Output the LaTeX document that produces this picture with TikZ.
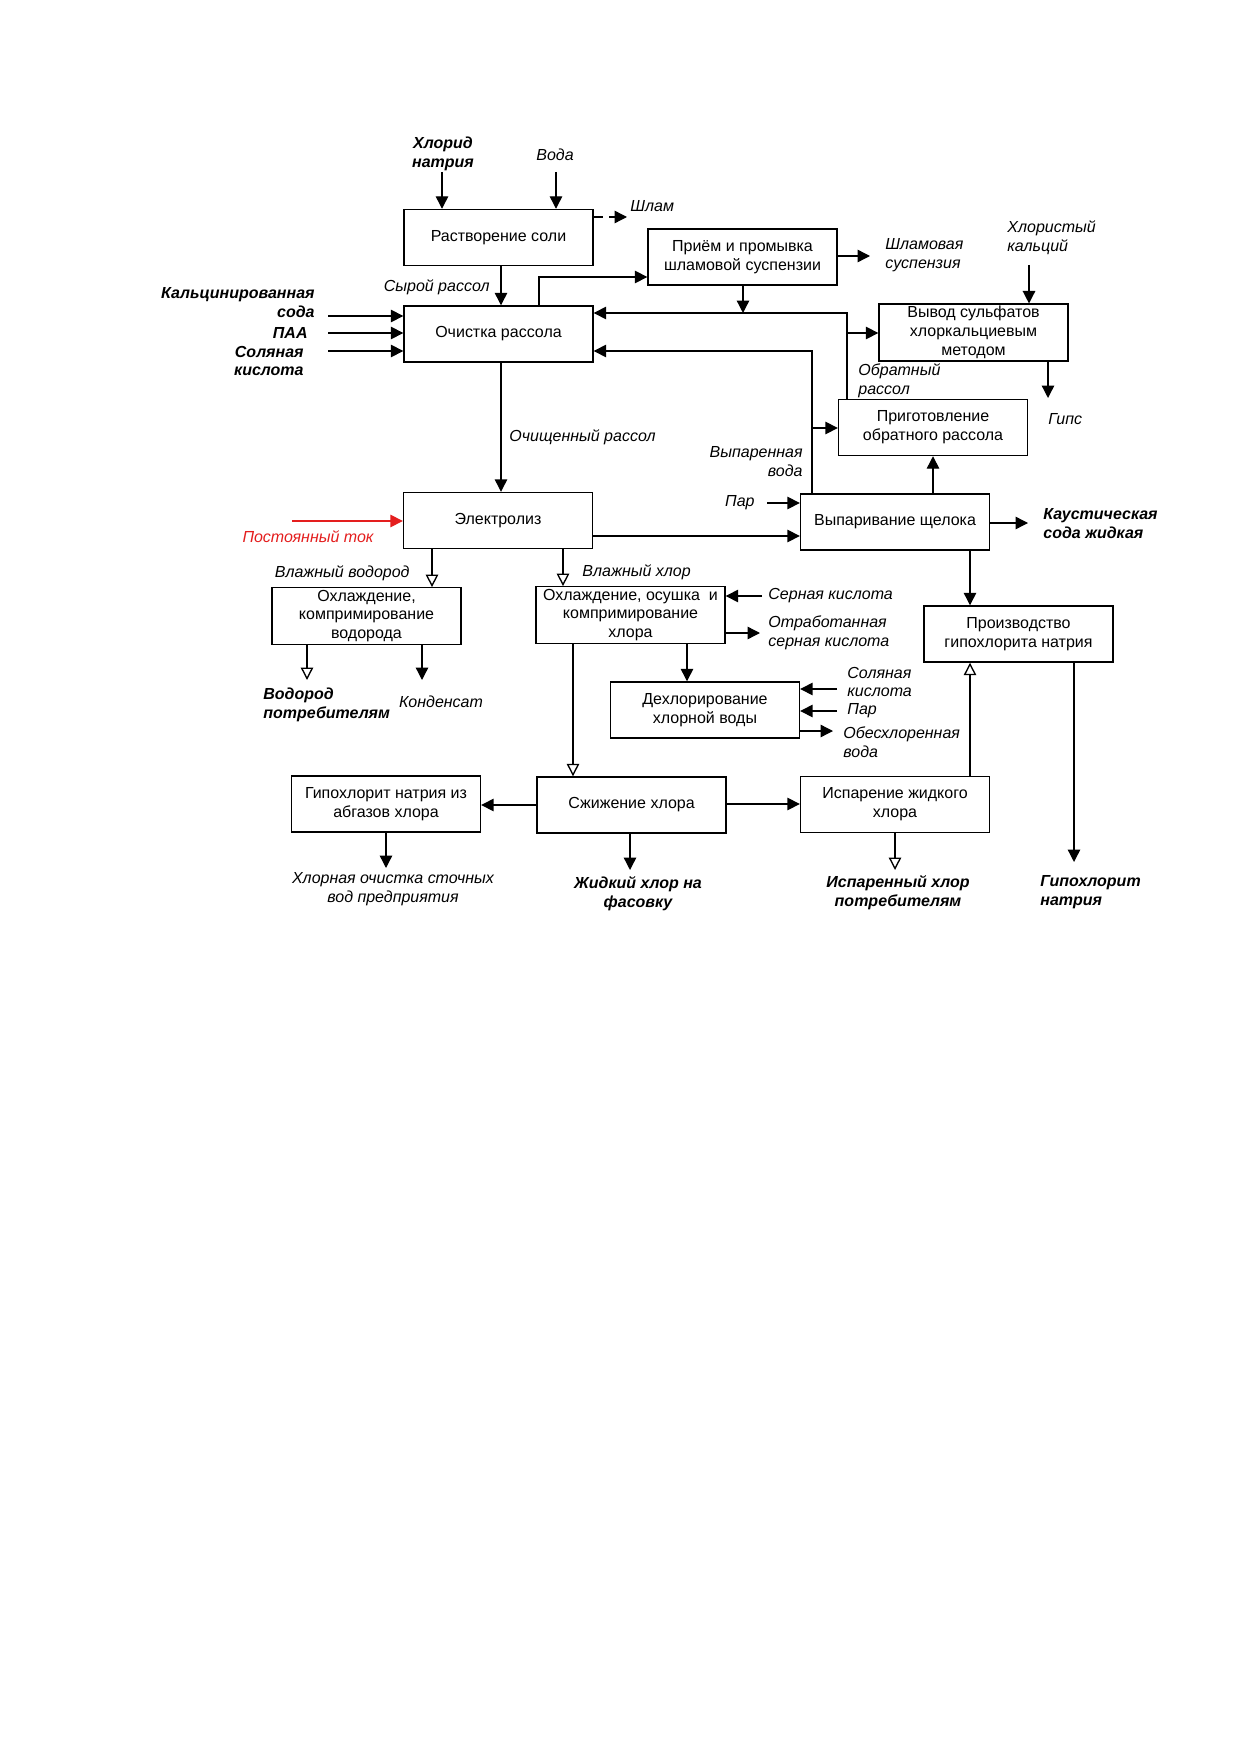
\documentclass[tikz,border=0pt]{standalone}
\usepackage{fontspec}
\setmainfont{Liberation Sans}
\usetikzlibrary{arrows.meta}
\definecolor{dcred}{RGB}{228,30,30}
\newcommand\dfont{\fontsize{7.7}{9.1}\selectfont}
\begin{document}
\begin{tikzpicture}[x=0.48147pt,y=-0.48147pt,
  box/.style={draw, line width=0.65pt, minimum width=91pt, minimum height=27pt, inner sep=1pt, align=center, font=\dfont},
  lbl/.style={font=\dfont\itshape, align=center, inner sep=0pt},
  blbl/.style={font=\dfont\bfseries\itshape, align=center, inner sep=0pt},
  arr/.style={line width=0.65pt, -{Triangle[length=6pt,width=6pt]}},
  oarr/.style={line width=0.65pt, -{Triangle[open,length=6pt,width=6pt,fill=white]}},
  dasharr/.style={arr, dash pattern=on 4.5pt off 3pt}
]
\fill[white] (0,0) rectangle (1241,1755);
\useasboundingbox (0,0) rectangle (1241,1755);

% ---- boxes ----
\node[box] (rast)   at (498.5,237.5) {Растворение соли};
\node[box] (ochist) at (498.5,334)   {Очистка рассола};
\node[box] (priem)  at (742.5,257)   {Приём и промывка\\шламовой суспензии};
\node[box] (vyvod)  at (973.5,332.5) {Вывод сульфатов\\хлоркальциевым\\методом};
\node[box] (prig)   at (933,427.5)   {Приготовление\\обратного рассола};
\node[box] (elec)   at (498,520.5)   {Электролиз};
\node[box] (vypar)  at (895,522)     {Выпаривание щелока};
\node[box] (ohlH)   at (366.5,616)   {Охлаждение,\\компримирование\\водорода};
\node[box] (ohlCl)  at (630.5,615)   {Охлаждение, осушка\ \ и\\компримирование\\хлора};
\node[box] (proizv) at (1018.5,634)  {Производство\\гипохлорита натрия};
\node[box] (dechl)  at (705,710)     {Дехлорирование\\хлорной воды};
\node[box] (gipo)   at (386,804)     {Гипохлорит натрия из\\абгазов хлора};
\node[box] (szhizh) at (631.5,805)   {Сжижение хлора};
\node[box] (ispar)  at (895,804.5)   {Испарение жидкого\\хлора};

% ---- labels ----
\node[blbl] (tHlor) at (443,154) {Хлорид\\натрия};
\node[lbl] (tVoda) at (555,155) {Вода};
\node[lbl, anchor=west] (tShlam) at (630,206) {Шлам};
\node[lbl, anchor=east] (tSyr) at (490,287) {Сырой рассол};
\node[blbl, anchor=east, align=right] (tKalc) at (315,303) {Кальцинированная\\сода};
\node[blbl, anchor=east] (tPAA) at (308,333) {ПАА};
\node[blbl, anchor=east, align=right] (tHCl) at (304,361) {Соляная\\кислота};
\node[lbl, anchor=west, align=left] (tSusp) at (885,255) {Шламовая\\суспензия};
\node[lbl, anchor=west, align=left] (tCaCl) at (1007,238) {Хлористый\\кальций};
\node[lbl, anchor=west] (tGips) at (1048,419) {Гипс};
\node[lbl, anchor=west, align=left] (tObr) at (858,381) {Обратный\\рассол};
\node[lbl, anchor=east, align=right] (tVypV) at (803,462) {Выпаренная\\вода};
\node[lbl, anchor=east] (tPar1) at (755,503) {Пар};
\node[blbl, anchor=west, align=left] (tCaust) at (1043,524) {Каустическая\\сода жидкая};
\node[lbl, anchor=west] (tOchish) at (509,437) {Очищенный рассол};
\node[lbl, text=dcred] (tDC) at (308,537) {Постоянный ток};
\node[lbl, anchor=east] (tVlH) at (410,573) {Влажный водород};
\node[lbl, anchor=west] (tVlCl) at (582,572) {Влажный хлор};
\node[blbl, anchor=west, align=left] (tH2) at (263,705) {Водород\\потребителям};
\node[lbl] (tCond) at (441,702) {Конденсат};
\node[lbl, anchor=west] (tH2SO4) at (768,596) {Серная кислота};
\node[lbl, anchor=west, align=left] (tSpent) at (768,633) {Отработанная\\серная кислота};
\node[lbl, anchor=west, align=left] (tHCl2) at (847,682) {Соляная\\кислота};
\node[lbl, anchor=west] (tPar2) at (847,711) {Пар};
\node[lbl, anchor=west, align=left] (tDew) at (843,742) {Обесхлоренная\\вода};
\node[blbl, anchor=west, align=left] (tNaOCl) at (1040,892) {Гипохлорит\\натрия};
\node[lbl] (tWaste) at (393,889) {Хлорная очистка сточных\\вод предприятия};
\node[blbl] (tLiq) at (638,894) {Жидкий хлор на\\фасовку};
\node[blbl] (tEvap) at (898,893) {Испаренный хлор\\потребителям};

% ---- free ends ----
\coordinate (cHl) at (442,172);
\coordinate (cVoda) at (556,172);
\coordinate (cShlam) at (627,217);
\coordinate (cKalc) at (328,316);
\coordinate (cPAA) at (328,333);
\coordinate (cHCl) at (328,351);
\coordinate (cSusp) at (870,256);
\coordinate (jPriem) at (743,313);
\coordinate (jVyv) at (847,333);
\coordinate (cCaCl) at (1029,265);
\coordinate (cGips) at (1048,398);
\coordinate (jPrig) at (812,428);
\coordinate (cCaust) at (1028,523);
\coordinate (cPar1) at (767,503);
\coordinate (cDC) at (292,521);
\coordinate (cH2) at (307,680);
\coordinate (cCond) at (422,680);
\coordinate (cH2SO4) at (762,596);
\coordinate (cSpent) at (760,633);
\coordinate (cHCl2) at (837,689);
\coordinate (cPar2) at (837,711);
\coordinate (cDew) at (833,731);
\coordinate (cNaOCl) at (1074,862);
\coordinate (cWaste) at (386,868);
\coordinate (cLiq) at (630,870);
\coordinate (cEvap) at (895,870);

% ---- connectors ----
\draw[arr] (cHl) -- (cHl |- rast.north);
\draw[arr] (cVoda) -- (cVoda |- rast.north);
\draw[dasharr] (rast.east |- cShlam) -- (cShlam);
\draw[arr] (rast.south -| 501,0) -- (ochist.north -| 501,0);
\draw[arr] (cKalc) -- (cKalc -| ochist.west);
\draw[arr] (cPAA) -- (cPAA -| ochist.west);
\draw[arr] (cHCl) -- (cHCl -| ochist.west);
\draw[arr] (ochist.north -| 539,0) |- (priem.west |- 0,277);
\draw[arr] (priem.east |- cSusp) -- (cSusp);
\draw[arr] (priem.south -| jPriem) -- (jPriem);
\draw[arr] (prig.north -| 847,0) |- (ochist.east |- 0,313);
\draw[arr] (jVyv) -- (jVyv -| vyvod.west);
\draw[arr] (cCaCl) -- (cCaCl |- vyvod.north);
\draw[arr] (vyvod.south -| cGips) -- (cGips);
\draw[arr] (vypar.north -| 812,0) |- (ochist.east |- 0,351);
\draw[arr] (jPrig) -- (jPrig -| prig.west);
\draw[arr] (vypar.north -| 933,0) -- (prig.south -| 933,0);
\draw[arr] (vypar.east |- cCaust) -- (cCaust);
\draw[arr] (cPar1) -- (cPar1 -| vypar.west);
\draw[arr] (elec.east |- 0,536) -- (vypar.west |- 0,536);
\draw[arr, draw=dcred, fill=dcred] (cDC) -- (cDC -| elec.west);
\draw[arr] (ochist.south -| 501,0) -- (elec.north -| 501,0);
\draw[oarr] (elec.south -| 432,0) -- (ohlH.north -| 432,0);
\draw[oarr] (elec.south -| 563,0) -- (ohlCl.north -| 563,0);
\draw[oarr] (ohlH.south -| cH2) -- (cH2);
\draw[arr] (ohlH.south -| cCond) -- (cCond);
\draw[arr] (cH2SO4) -- (cH2SO4 -| ohlCl.east);
\draw[arr] (ohlCl.east |- cSpent) -- (cSpent);
\draw[arr] (ohlCl.south -| 687,0) -- (dechl.north -| 687,0);
\draw[oarr] (ohlCl.south -| 573,0) -- (szhizh.north -| 573,0);
\draw[arr] (cHCl2) -- (cHCl2 -| dechl.east);
\draw[arr] (cPar2) -- (cPar2 -| dechl.east);
\draw[arr] (dechl.east |- cDew) -- (cDew);
\draw[arr] (vypar.south -| 970,0) -- (proizv.north -| 970,0);
\draw[oarr] (ispar.north -| 970,0) -- (proizv.south -| 970,0);
\draw[arr] (proizv.south -| cNaOCl) -- (cNaOCl);
\draw[arr] (szhizh.west |- 0,805) -- (gipo.east |- 0,805);
\draw[arr] (szhizh.east |- 0,804) -- (ispar.west |- 0,804);
\draw[arr] (gipo.south -| cWaste) -- (cWaste);
\draw[arr] (szhizh.south -| cLiq) -- (cLiq);
\draw[oarr] (ispar.south -| cEvap) -- (cEvap);
\end{tikzpicture}
\end{document}
